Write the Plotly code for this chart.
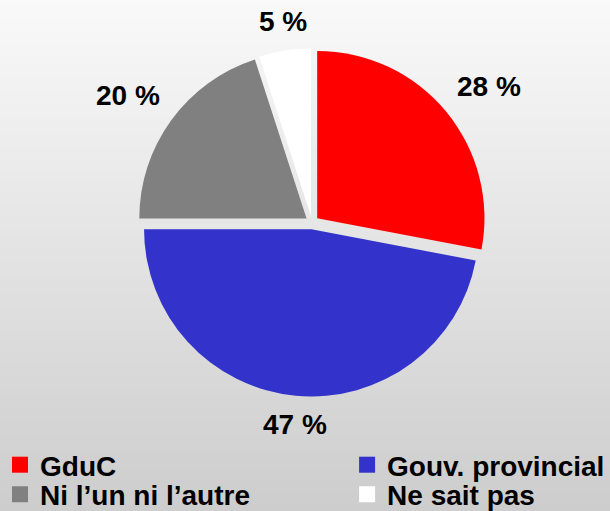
import math
import plotly.graph_objects as go

labels = ["GduC", "Gouv. provincial", "Ni l’un ni l’autre", "Ne sait pas"]
values = [28, 47, 20, 5]
text_labels = ["28 %", "47 %", "20 %", "5 %"]
colors = ["#ff0000", "#3333cc", "#808080", "#ffffff"]

W, H = 610, 511
FONT = "Liberation Sans, Arial"
fig = go.Figure()

cx, cy, half = 312, 222.5, 174
pull = 0.04
fig.add_trace(go.Pie(
    labels=labels, values=values, text=text_labels,
    textinfo="none",
    sort=False, direction="clockwise", rotation=0,
    pull=[pull] * len(values),
    marker=dict(colors=colors, line=dict(width=0)),
    domain=dict(x=[(cx - half) / W, (cx + half) / W], y=[(H - cy - half) / H, (H - cy + half) / H]),
    hoverinfo="label+percent",
    showlegend=False,
))

# data labels placed just outside each slice, at its mid-angle
total = sum(values)
r = half / (1 + pull)
label_r = r * 1.11
annotations = []
cum = 0
for v, t in zip(values, text_labels):
    a = 2 * math.pi * (cum + v / 2) / total
    cum += v
    s, c = math.sin(a), math.cos(a)
    px = cx + label_r * s
    py = cy - label_r * c
    xa = "left" if s > 0.3 else ("right" if s < -0.3 else "center")
    ya = "bottom" if c > 0.3 else ("top" if c < -0.3 else "middle")
    annotations.append(dict(
        x=px / W, y=1 - py / H, xref="paper", yref="paper",
        text=t, showarrow=False, xanchor=xa, yanchor=ya,
        font=dict(family=FONT, size=28, color="#000000", weight="bold"),
    ))

# legend entries (one legend per entry, laid out in two columns)
legend_pos = [(0.0, 465), (0.569, 465), (0.0, 494.5), (0.569, 494.5)]
legend_names = ["legend", "legend2", "legend3", "legend4"]
layout_legends = {}
for i, (lab, col) in enumerate(zip(labels, colors)):
    fig.add_trace(go.Scatter(
        x=[None], y=[None], mode="markers", name=lab,
        marker=dict(symbol="square", size=16, color=col, line=dict(width=0)),
        showlegend=True, legend=legend_names[i], hoverinfo="skip",
    ))
    lx, ly = legend_pos[i]
    layout_legends[legend_names[i]] = dict(
        x=lx, xanchor="left", y=1 - ly / H, yanchor="middle",
        font=dict(family=FONT, size=28, color="#000000", weight="bold"),
        bgcolor="rgba(0,0,0,0)", borderwidth=0, itemsizing="trace",
    )

# gradient background
n = 80
top = (249, 249, 249)
bot = (205, 205, 205)
shapes = []
for i in range(n):
    t = i / (n - 1)
    col = tuple(int(round(top[k] + (bot[k] - top[k]) * t)) for k in range(3))
    shapes.append(dict(type="rect", xref="paper", yref="paper",
                       x0=0, x1=1, y0=1 - (i + 1) / n - 0.002, y1=1 - i / n,
                       fillcolor="rgb(%d,%d,%d)" % col, line=dict(width=0), layer="below"))

fig.update_layout(
    width=W, height=H,
    margin=dict(l=0, r=0, t=0, b=0, autoexpand=False),
    paper_bgcolor="#cdcdcd", plot_bgcolor="rgba(0,0,0,0)",
    shapes=shapes,
    annotations=annotations,
    showlegend=True,
    xaxis=dict(visible=False), yaxis=dict(visible=False),
    **layout_legends,
)

fig.write_html("out.html", config={"displayModeBar": False},
               post_script="document.body.style.margin='0';")
